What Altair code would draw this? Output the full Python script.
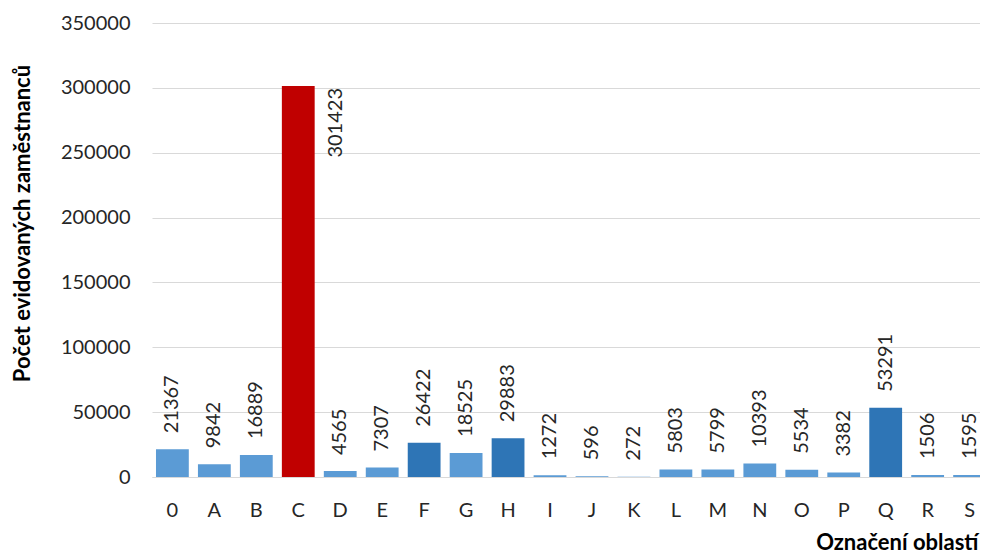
import altair as alt
import pandas as pd

categories = ["0", "A", "B", "C", "D", "E", "F", "G", "H", "I",
              "J", "K", "L", "M", "N", "O", "P", "Q", "R", "S"]
values = [21367, 9842, 16889, 301423, 4565, 7307, 26422, 18525, 29883, 1272,
          596, 272, 5803, 5799, 10393, 5534, 3382, 53291, 1506, 1595]
groups = ["light", "light", "light", "red", "light", "light", "dark", "light", "dark", "light",
          "light", "light", "light", "light", "light", "light", "light", "dark", "light", "light"]

df = pd.DataFrame({"cat": categories, "val": values, "grp": groups})

FONT = "Lato"
TXT = "#262626"

x = alt.X("cat:N", sort=categories,
          scale=alt.Scale(paddingInner=0.218, paddingOuter=0.095, range=[0, 838]),
          axis=alt.Axis(title="Označení oblastí", labelAngle=0, ticks=False,
                        labelPadding=23, domainColor="#D9D9D9",
                        titleAnchor="end", titleAlign="right", titleX=826, titleY=72,
                        titleBaseline="alphabetic"))
y = alt.Y("val:Q", scale=alt.Scale(domain=[0, 350000], nice=False),
          axis=alt.Axis(title="Počet evidovaných zaměstnanců", values=list(range(0, 350001, 50000)),
                        format="d", domain=False, ticks=False, labelPadding=22,
                        gridColor="#D9D9D9", titleX=-130, titleY=200, titleAngle=-90,
                        titleAlign="center", titleBaseline="middle"))

bars = alt.Chart(df).mark_bar().encode(
    x=x, y=y,
    color=alt.Color("grp:N", scale=alt.Scale(domain=["light", "dark", "red"],
                                             range=["#5B9BD5", "#2E75B6", "#C00000"]),
                    legend=None),
)

labels = alt.Chart(df).transform_filter("datum.cat != 'C'").mark_text(
    angle=270, align="left", baseline="middle", dx=16, font=FONT, fontSize=20, color=TXT
).encode(x=alt.X("cat:N", sort=categories), y="val:Q", text="val:Q")

label_c = alt.Chart(df).transform_filter("datum.cat == 'C'").mark_text(
    angle=270, align="right", baseline="middle", dx=-2, dy=38, font=FONT, fontSize=20, color=TXT
).encode(x=alt.X("cat:N", sort=categories), y="val:Q", text="val:Q")

chart = alt.layer(bars, labels, label_c).properties(
    width=828, height=454,
    autosize="none",
    padding={"left": 144, "top": 15, "right": 0, "bottom": 78},
).configure_view(stroke=None).configure_axis(
    labelFont=FONT, labelFontSize=20, labelColor=TXT,
    titleFont=FONT, titleFontSize=22, titleFontWeight="bold", titleColor="#000000",
)

chart.save("out.html", embed_options={"renderer": "svg", "actions": False})
